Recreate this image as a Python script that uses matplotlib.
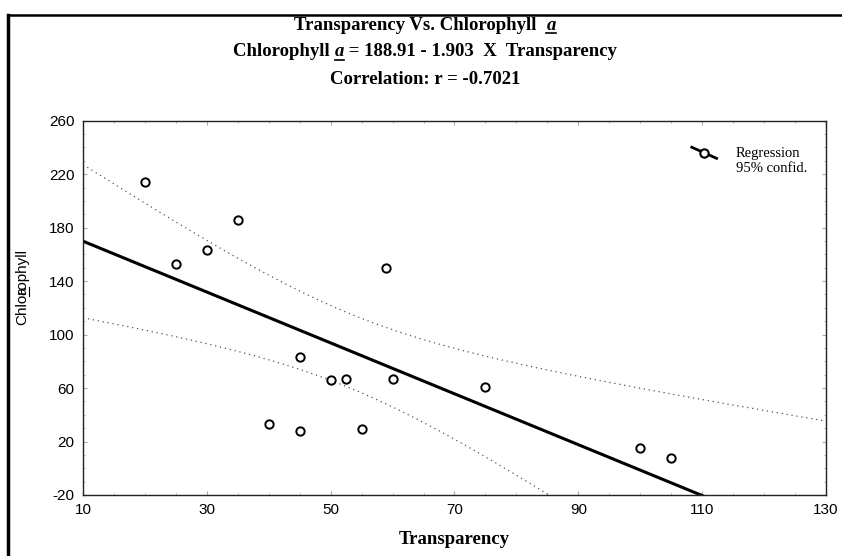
import numpy as np
import matplotlib
matplotlib.use('Agg')
import matplotlib.pyplot as plt
from matplotlib.lines import Line2D
from matplotlib.legend_handler import HandlerBase
from matplotlib.ticker import MultipleLocator

plt.rcParams['axes.unicode_minus'] = False

# data
transparency = [20, 25, 30, 35, 40, 45, 45, 50, 52.5, 55, 59, 60, 75, 100, 105]
chlorophyll = [214, 153, 163, 186, 33, 83, 28, 66, 67, 29, 150, 67, 61, 15, 8]

intercept = 188.91
slope = -1.903
corr_r = -0.7021
t_crit = 2.160  # t(0.975, df=13)

x_ticks = [10, 30, 50, 70, 90, 110, 130]
y_ticks = [-20, 20, 60, 100, 140, 180, 220, 260]

serif = ['Liberation Serif', 'DejaVu Serif']
sans = ['Liberation Sans', 'DejaVu Sans']

# regression + 95% band of the mean
x = np.array(transparency, dtype=float)
y = np.array(chlorophyll, dtype=float)
n = len(x)
xs = np.linspace(x_ticks[0], x_ticks[-1], 300)
fit = intercept + slope * xs
resid = y - (intercept + slope * x)
s = np.sqrt(np.sum(resid ** 2) / (n - 2))
se = s * np.sqrt(1 / n + (xs - x.mean()) ** 2 / np.sum((x - x.mean()) ** 2))
upper = fit + t_crit * se
lower = fit - t_crit * se


class SlopedHandler(HandlerBase):
    # short falling line with an open circle, level with the first label line
    def create_artists(self, legend, orig_handle, xdescent, ydescent,
                       width, height, fontsize, trans):
        lift = 0.55 * fontsize
        x0, x1 = -xdescent, width - xdescent
        y0, y1 = height / 2 + 4 + lift, height / 2 - 4 + lift
        line = Line2D([x0, x1], [y0, y1], color='black', lw=2, transform=trans)
        mk = Line2D([(x0 + x1) / 2], [(y0 + y1) / 2], marker='o', ms=6,
                    mfc='white', mec='black', mew=1.5, transform=trans)
        return [line, mk]


fig = plt.figure(figsize=(8.42, 5.56), dpi=100)
ax = fig.add_axes([83 / 842, 1 - 495 / 556, (826 - 83) / 842, (495 - 120.7) / 556])

ax.plot(xs, upper, color='#555555', lw=0.9, ls=(0, (1, 3)))
ax.plot(xs, lower, color='#555555', lw=0.9, ls=(0, (1, 3)))
ax.plot(xs, fit, color='black', lw=2.2)
ax.plot(transparency, chlorophyll, ls='none', marker='o', ms=6,
        mfc='white', mec='black', mew=1.4, clip_on=False)

ax.set_xlim(x_ticks[0], x_ticks[-1])
ax.set_ylim(y_ticks[0], y_ticks[-1])
ax.set_xticks(x_ticks)
ax.set_yticks(y_ticks)
ax.xaxis.set_minor_locator(MultipleLocator(5))
ax.yaxis.set_minor_locator(MultipleLocator(10))
ax.tick_params(which='both', direction='in', top=True, right=True, color='#aaaaaa')
ax.tick_params(which='major', length=3, labelsize=11, pad=6)
ax.tick_params(which='minor', length=1.5)
for lab in ax.get_xticklabels() + ax.get_yticklabels():
    lab.set_family(sans)
for sp in ax.spines.values():
    sp.set_linewidth(1.0)
    sp.set_color('#222222')

ax.set_xlabel('Transparency', family=serif, fontweight='bold', fontsize=13.5, labelpad=10)

leg = ax.legend([object()], ['Regression\n95% confid.'], handler_map={object: SlopedHandler()},
                loc='upper right', bbox_to_anchor=(0.992, 0.965), frameon=False,
                prop={'family': serif, 'size': 10.5}, handlelength=1.7, handletextpad=1.3)
for t in leg.get_texts():
    t.set_multialignment('left')

# y label with the stray underlined "a" printed over it
fig.text(22 / 842, 1 - 287 / 556, 'Chlorophyll', rotation=90, family=sans, fontsize=11,
         ha='center', va='center')
fig.text(22 / 842, 1 - 291 / 556, 'a', rotation=90, family=sans, fontsize=10,
         ha='center', va='center')
fig.add_artist(Line2D([28.5 / 842, 28.5 / 842], [1 - 296 / 556, 1 - 287 / 556],
                      color='black', lw=0.8))

# titles built from pieces so the italic "a" can be underlined
fig.canvas.draw()
renderer = fig.canvas.get_renderer()


def title_line(parts, ypix, size=13.5):
    texts = []
    for txt, italic in parts:
        t = fig.text(0, 1 - ypix / 556, txt, family=serif, fontweight='bold', fontsize=size,
                     fontstyle='italic' if italic else 'normal', va='center', ha='left')
        texts.append((t, italic))
    widths = [t.get_window_extent(renderer).width for t, _ in texts]
    xpos = 425 - sum(widths) / 2
    for (t, italic), w in zip(texts, widths):
        t.set_x(xpos / 842)
        if italic:
            fig.add_artist(Line2D([xpos / 842, (xpos + w) / 842],
                                  [1 - (ypix + 8) / 556] * 2, color='black', lw=1.2))
        xpos += w


title_line([('Transparency Vs. Chlorophyll  ', False), ('a', True)], 25)
title_line([('Chlorophyll ', False), ('a', True),
            (' = %.2f - %.3f  X  Transparency' % (intercept, -slope), False)], 52)
title_line([('Correlation: r = %.4f' % corr_r, False)], 79)

# scanned page border
fig.add_artist(Line2D([8 / 842, 8 / 842], [0, 1 - 15 / 556], color='black', lw=2.5))
fig.add_artist(Line2D([8 / 842, 1], [1 - 15 / 556] * 2, color='black', lw=1.8))

fig.savefig('out.png', dpi=100)
